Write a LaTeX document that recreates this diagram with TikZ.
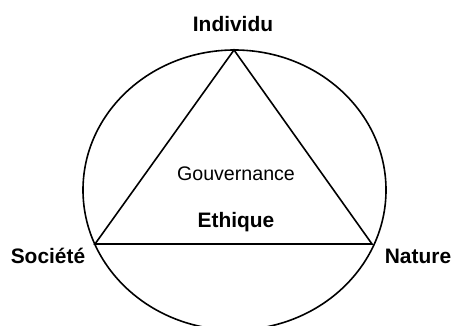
\documentclass[tikz,border=0pt]{standalone}
\usepackage{fontspec}
\setmainfont{Liberation Sans}
\begin{document}
\begin{tikzpicture}[x=1bp,y=1bp,
  shape line/.style={draw=black,line width=1.6bp},
  boldlabel/.style={font=\fontsize{21}{24}\selectfont\bfseries,inner sep=0pt,anchor=center},
  plainlabel/.style={font=\fontsize{19.7}{24}\selectfont,inner sep=0pt,anchor=center}]
\useasboundingbox (0,0) rectangle (454,325);
% ellipse
\draw[shape line] (234.5,135) ellipse [x radius=151.5, y radius=140];
% vertices
\coordinate (top) at (234,275);
\coordinate (left) at (95,81);
\coordinate (right) at (372,81);
\draw[shape line,line join=miter] (top) -- (right) -- (left) -- cycle;
% labels
\node[boldlabel] (individu) at (233,301) {Individu};
\node[boldlabel] (societe) at (48,69) {Société};
\node[boldlabel] (nature) at (418,69) {Nature};
\node[plainlabel] (gouv) at (236,151) {Gouvernance};
\node[boldlabel] (ethique) at (236,103) {Ethique};
\end{tikzpicture}
\end{document}
